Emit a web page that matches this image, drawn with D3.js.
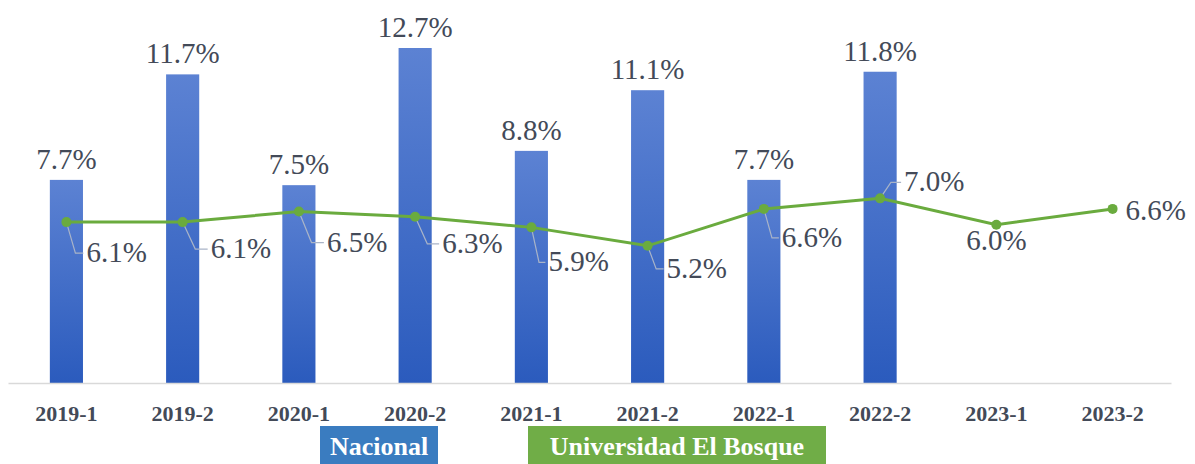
<!DOCTYPE html>
<html>
<head>
<meta charset="utf-8">
<script src="https://cdn.jsdelivr.net/npm/d3@7"></script>
<style>
  body { margin: 0; background: #fff; }
</style>
</head>
<body>
<script>
// datos
var periodos = ["2019-1", "2019-2", "2020-1", "2020-2", "2021-1", "2021-2", "2022-1", "2022-2", "2023-1", "2023-2"];
var nacional = [7.7, 11.7, 7.5, 12.7, 8.8, 11.1, 7.7, 11.8, null, null];
var bosque = [6.1, 6.1, 6.5, 6.3, 5.9, 5.2, 6.6, 7.0, 6.0, 6.6];
var series = ["Nacional", "Universidad El Bosque"];

// where each line label sits relative to its point (dx, dy, leader?)
var etiquetas = [
  [20, 40, true], [28, 36, true], [28, 40, true], [27, 36, true], [17, 44, true],
  [19, 32, true], [18, 38, true], [24, -7, true], [0, 25, false], [13, 11, false]
];

var serif = "'Liberation Serif', 'Times New Roman', serif";
var width = 1195, height = 464;
var svg = d3.select("body").append("svg")
  .attr("width", width)
  .attr("height", height);

var x = d3.scaleBand()
  .domain(periodos)
  .range([8, 1171])
  .paddingInner(0.715)
  .paddingOuter(0.36);

var y = d3.scaleLinear()
  .domain([0, 12.7])
  .range([383, 48]);

var grad = svg.append("defs").append("linearGradient")
  .attr("id", "barra")
  .attr("x1", 0).attr("y1", 0).attr("x2", 0).attr("y2", 1);
grad.append("stop").attr("offset", "0%").attr("stop-color", "#5c82d3");
grad.append("stop").attr("offset", "100%").attr("stop-color", "#2b5bbd");

var conBarra = periodos.filter(function(d, i) { return nacional[i] != null; });
var valor = function(d) { return nacional[periodos.indexOf(d)]; };

// bars
svg.selectAll("rect.barra")
  .data(conBarra)
  .enter()
  .append("rect")
  .attr("class", "barra")
  .attr("x", function(d) { return x(d); })
  .attr("width", x.bandwidth())
  .attr("y", function(d) { return y(valor(d)); })
  .attr("height", function(d) { return y(0) - y(valor(d)); })
  .attr("fill", "url(#barra)");

svg.selectAll("text.vbarra")
  .data(conBarra)
  .enter()
  .append("text")
  .attr("class", "vbarra")
  .attr("x", function(d) { return x(d) + x.bandwidth() / 2; })
  .attr("y", function(d) { return y(valor(d)) - 11; })
  .attr("text-anchor", "middle")
  .style("font-family", serif)
  .style("font-size", "29px")
  .attr("fill", "#434a58")
  .text(function(d) { return valor(d).toFixed(1) + "%"; });

// axis
var xAxis = svg.append("g")
  .attr("transform", "translate(0," + y(0) + ")")
  .call(d3.axisBottom(x).tickSize(0).tickPadding(22));
xAxis.select(".domain").attr("stroke", "#d9d9d9").attr("stroke-width", 1.5);
xAxis.selectAll("text")
  .style("font-family", serif)
  .style("font-size", "22px")
  .style("font-weight", "bold")
  .attr("fill", "#434a58");

// line
var cx = function(i) { return x(periodos[i]) + x.bandwidth() / 2; };
var linea = d3.line()
  .x(function(d, i) { return cx(i); })
  .y(function(d) { return y(d); });

svg.append("path")
  .datum(bosque)
  .attr("d", linea)
  .attr("fill", "none")
  .attr("stroke", "#6aab3e")
  .attr("stroke-width", 3);

// leader lines
bosque.forEach(function(v, i) {
  var e = etiquetas[i];
  if (!e[2]) return;
  var px = cx(i), py = y(v);
  var ty = py + e[1] - 9;
  var pts = [[px, py], [px + e[0] * 0.45, ty], [px + e[0] - 3, ty]];
  svg.append("polyline")
    .attr("points", pts.map(function(p) { return p.join(","); }).join(" "))
    .attr("fill", "none")
    .attr("stroke", "#a9b4c8")
    .attr("stroke-width", 1.2);
});

svg.selectAll("circle.punto")
  .data(bosque)
  .enter()
  .append("circle")
  .attr("class", "punto")
  .attr("cx", function(d, i) { return cx(i); })
  .attr("cy", function(d) { return y(d); })
  .attr("r", 5)
  .attr("fill", "#6aab3e");

svg.selectAll("text.vlinea")
  .data(bosque)
  .enter()
  .append("text")
  .attr("class", "vlinea")
  .attr("x", function(d, i) { return cx(i) + etiquetas[i][0]; })
  .attr("y", function(d, i) { return y(d) + etiquetas[i][1]; })
  .attr("text-anchor", function(d, i) { return etiquetas[i][2] || etiquetas[i][0] > 0 ? "start" : "middle"; })
  .style("font-family", serif)
  .style("font-size", "29px")
  .attr("fill", "#434a58")
  .text(function(d) { return d.toFixed(1) + "%"; });

// legend
var leyenda = [
  { nombre: series[0], x: 320, w: 118, color: "#3a7cc0" },
  { nombre: series[1], x: 528, w: 298, color: "#70ad47" }
];
var lg = svg.selectAll("g.ley")
  .data(leyenda)
  .enter()
  .append("g")
  .attr("class", "ley");
lg.append("rect")
  .attr("x", function(d) { return d.x; })
  .attr("y", 426)
  .attr("width", function(d) { return d.w; })
  .attr("height", 40)
  .attr("fill", function(d) { return d.color; });
lg.append("text")
  .attr("x", function(d) { return d.x + d.w / 2; })
  .attr("y", 455)
  .attr("text-anchor", "middle")
  .style("font-family", serif)
  .style("font-size", "26px")
  .style("font-weight", "bold")
  .attr("fill", "#fff")
  .text(function(d) { return d.nombre; });
</script>
</body>
</html>
